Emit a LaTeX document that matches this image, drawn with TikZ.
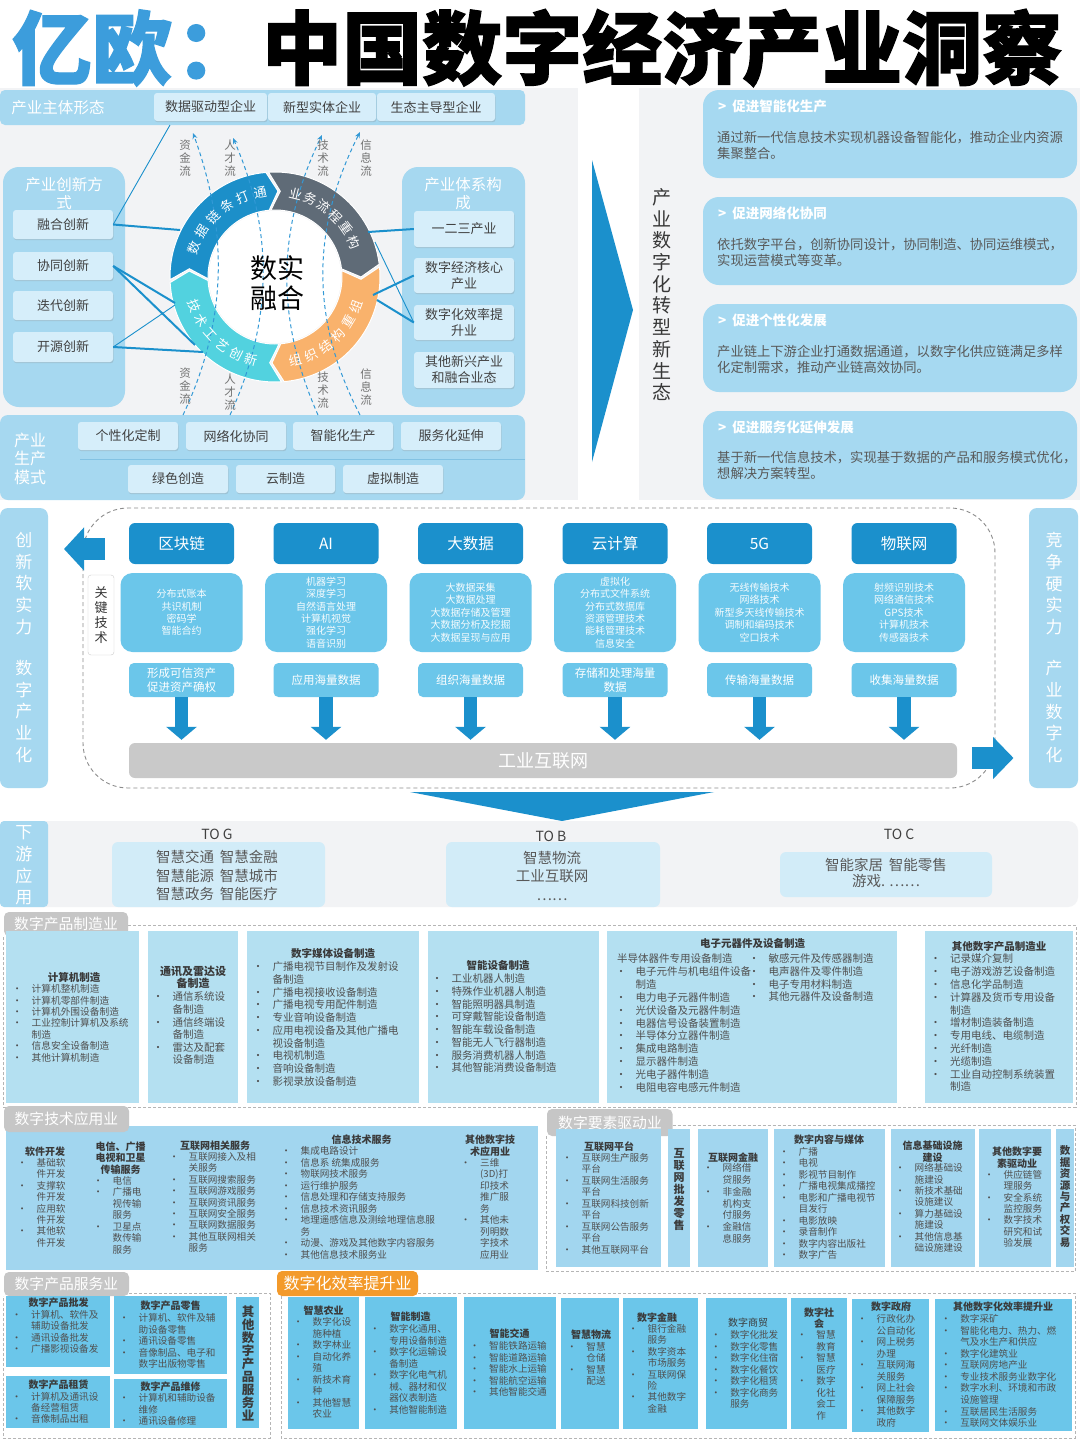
\documentclass[tikz,border=0pt]{standalone}
\usepackage{fontspec}
\setmainfont{Noto Sans CJK SC}
\usetikzlibrary{arrows.meta,calc,shadows}
\definecolor{lb}{HTML}{A6D8F0}
\definecolor{lbox}{HTML}{D6EEFA}
\definecolor{db}{HTML}{1B90CC}
\definecolor{mb}{HTML}{6BC6EA}
\definecolor{bgg}{HTML}{F2F3F5}
\definecolor{tg}{HTML}{505050}
\definecolor{tt}{HTML}{3A3A3A}
\definecolor{tdark}{HTML}{404040}
\definecolor{tabg}{HTML}{C6C6C6}
\definecolor{org}{HTML}{F39A2B}
\definecolor{pm}{HTML}{B4E0F1}
\definecolor{tp}{HTML}{A2D6EF}
\definecolor{rblue}{HTML}{1C8FC9}
\definecolor{rgrey}{HTML}{5F6B77}
\definecolor{rorange}{HTML}{F9B26C}
\definecolor{rcyan}{HTML}{52D2DF}
\definecolor{titleblue}{HTML}{3C9DDC}
\definecolor{flowc}{HTML}{3399D6}
\definecolor{gbar}{HTML}{C9C9C9}
\definecolor{dashc}{HTML}{B5B5B5}
\definecolor{tbox}{HTML}{A6D9F1}
\definecolor{dsbox}{HTML}{D2ECF8}
\newlength\bw
\setlength\bw{14.5pt}
\newcommand\myb{\makebox[0pt][c]{•}\hspace*{\bw}}
\newcommand\myc{\hspace*{\bw}}
\newcommand\fz[2]{\fontsize{#1}{#2}\selectfont}
\newcommand\bx[7][]{\node[#1,minimum width={(#5-#3)*1pt},minimum height={(#6-#4)*1pt},inner sep=0pt] (#2) at ({(#3+#5)/2},{(#4+#6)/2}) {#7};}
\newcommand\seg[3]{\fill[#1,draw=white,line width=1pt] ([shift={(#2:105)}]C) arc[start angle=#2,end angle=#3,radius=105] -- ([shift={(#3+7:86)}]C) -- ([shift={(#3:67)}]C) arc[start angle=#3,end angle=#2,radius=67] -- ([shift={(#2+7:86)}]C) -- cycle;}
\newcommand\techcol[5]{%
 \node[hdr] (h#1) at (#2,543.5) {#3};
 \node[det] (d#1) at (#2,612.5) {#4};
 \node[res] (r#1) at (#2,680) {#5};
 \draw[bigarrow] (r#1.south) -- (r#1.south |- bar.north);}
\begin{document}
\begin{tikzpicture}[x=1pt,y=-1pt,
 wt/.style={text=white,inner sep=0pt,align=center},
 lbx/.style={fill=lbox,rounded corners=3pt,drop shadow={shadow xshift=0.6pt,shadow yshift=-1.2pt,opacity=0.25},text=tdark,font=\fz{13}{16},align=center},
 conn/.style={draw=db,line width=2pt},
 connt/.style={draw=db,line width=0.9pt},
 flow/.style={draw=flowc,line width=1pt,dash pattern=on 4pt off 3pt,-{Stealth[length=6pt,width=5pt]}},
 flowlbl/.style={text=black!55,inner sep=0pt,align=center,font=\fz{11.5}{13}},
 rtxt/.style={text=white,inner sep=0pt,font=\fz{13}{15}},
 tb/.style={fill=tbox,rounded corners=16pt},
 hd/.style={anchor=west,text=white,inner sep=0pt,font=\bfseries\fz{13.5}{16}},
 bd/.style={anchor=north west,text=black!65,inner sep=0pt,align=left,font=\fz{13.3}{16}},
 hdr/.style={fill=db,rounded corners=6pt,minimum width=105pt,minimum height=41pt,text=white,font=\fz{15.5}{18},inner sep=0pt},
 det/.style={fill=mb,rounded corners=12pt,minimum width=122pt,minimum height=79pt,text=white!93!mb,font=\fz{10}{12.4},align=center,inner sep=0pt},
 res/.style={fill=mb,rounded corners=5pt,minimum width=105pt,minimum height=34pt,text=white,font=\fz{11.5}{14},align=center,inner sep=0pt},
 bigarrow/.style={draw=db,line width=13.4pt,-{Triangle[length=13pt 0 0,width=30pt 0 0]},shorten >=3pt},
 vbar/.style={text=white,inner sep=0pt,align=center,font=\fz{17}{21.75}},
 lst/.style={anchor=north west,inner sep=0pt,align=left,text=tg},
 ttl/.style={inner sep=0pt,align=center,text=tt,font=\bfseries\fz{10}{11.5}},
 tab/.style={fill=tabg,rounded corners=5pt},
 dframe/.style={draw=dashc,line width=0.9pt,dash pattern=on 3pt off 2pt},
 dsb/.style={fill=dsbox,rounded corners=6pt},
 tol/.style={text=black!75,inner sep=0pt,font=\fz{14}{16}},
 dst/.style={text=black!65,inner sep=0pt,align=center,font=\fz{14.5}{18.5}}
]
\useasboundingbox (0,0) rectangle (1080,1440);
\fill[white] (0,0) rectangle (1080,1440);
% ---------- title
\node[anchor=west,inner sep=0pt,text=titleblue,font=\fz{80}{82}\bfseries\addfontfeatures{FakeBold=1.5}] (t1) at (12,48) {亿欧\hspace{4pt}：};
\node[anchor=west,inner sep=0pt,text=black,font=\fz{80}{82}\bfseries\addfontfeatures{FakeBold=1.5}] (t2) at (262,48) {中国数字经济产业洞察};
% ---------- top-left
\fill[bgg] (0,88) rectangle (578,500);
\fill[lb,rounded corners=5pt] (0,90) rectangle (525,125);
\node[wt,font=\fz{15.5}{18}] (zt) at (58,108) {产业主体形态};
\bx[lbx]{e1}{154}{93}{267}{121}{数据驱动型企业}
\bx[lbx]{e2}{268}{93}{376}{121}{新型实体企业}
\bx[lbx]{e3}{377}{93}{495}{121}{生态主导型企业}
\fill[lb,rounded corners=16pt] (3,167) rectangle (125,407);
\node[wt,font=\fz{15.5}{18}] (cxt) at (64,194) {产业创新方\\式};
\bx[lbx]{rh}{13}{210}{113}{239}{融合创新}
\bx[lbx]{xt}{13}{252}{113}{280}{协同创新}
\bx[lbx]{dd}{13}{291}{113}{320}{迭代创新}
\bx[lbx]{ky}{13}{332}{113}{362}{开源创新}
\fill[lb,rounded corners=16pt] (402,167) rectangle (525,407);
\node[wt,font=\fz{15.5}{18}] (txt) at (463,194) {产业体系构\\成};
\bx[lbx]{s1}{414}{211}{514}{247}{一二三产业}
\bx[lbx]{s2}{414}{258}{514}{293}{数字经济核心\\产业}
\bx[lbx]{s3}{414}{305}{514}{340}{数字化效率提\\升业}
\bx[lbx]{s4}{414}{352}{514}{388}{其他新兴产业\\和融合业态}
\fill[lb,rounded corners=8pt] (0,415) rectangle (525,500);
\node[wt,font=\fz{16}{18.5}] (scm) at (30,458.5) {产业\\生产\\模式};
\bx[lbx]{m1}{78}{422}{178}{450}{个性化定制}
\bx[lbx]{m2}{186}{422}{286}{450}{网络化协同}
\bx[lbx]{m3}{293}{422}{393}{450}{智能化生产}
\bx[lbx]{m4}{401}{422}{501}{450}{服务化延伸}
\draw[db!55,line width=0.8pt] (80,459) -- (525,459);
\bx[lbx]{m5}{128}{465}{228}{493}{绿色创造}
\bx[lbx]{m6}{236}{465}{335}{493}{云制造}
\bx[lbx]{m7}{343}{465}{443}{493}{虚拟制造}
% ring
\coordinate (C) at (275,277);
\seg{rblue}{178.5}{265}
\seg{rgrey}{266.5}{353}
\seg{rorange}{354.5}{445}
\seg{rcyan}{446.5}{537}
\fill[white] (C) circle[radius=66];
% flows
\coordinate (f1s) at (183,415); \coordinate (f1e) at (193,133);
\coordinate (f2s) at (230,415); \coordinate (f2e) at (233,138);
\coordinate (f3s) at (318,415); \coordinate (f3e) at (322,135);
\coordinate (f4s) at (360,415); \coordinate (f4e) at (360,132);
\draw[flow] (f1s) .. controls (228,320) and (228,230) .. (f1e);
\draw[flow] (f2s) .. controls (273.5,320) and (273.5,230) .. (f2e);
\draw[flow] (f3s) .. controls (276,320) and (276,230) .. (f3e);
\draw[flow] (f4s) .. controls (310.7,320) and (310.7,230) .. (f4e);
\node[flowlbl] (fl1a) at (185,158) {资\\金\\流};
\node[flowlbl] (fl1b) at (185,386.5) {资\\金\\流};
\node[flowlbl] (fl2a) at (230,158) {人\\才\\流};
\node[flowlbl] (fl2b) at (230,392.5) {人\\才\\流};
\node[flowlbl] (fl3a) at (323,158) {技\\术\\流};
\node[flowlbl] (fl3b) at (323,390.5) {技\\术\\流};
\node[flowlbl] (fl4a) at (366,158) {信\\息\\流};
\node[flowlbl] (fl4b) at (366,387.5) {信\\息\\流};
% ring text
\foreach \ch [count=\i from 0] in {数,据,链,条,打,通}{
 \pgfmathsetmacro\ang{200+\i*12}
 \node[rtxt,rotate=-\ang-90] (rtb\i) at ([shift={(\ang:86)}]C) {\ch};}
\foreach \ch [count=\i from 0] in {业,务,流,程,重,构}{
 \pgfmathsetmacro\ang{284+\i*10.4}
 \node[rtxt,rotate=-\ang-90] (rtg\i) at ([shift={(\ang:86)}]C) {\ch};}
\foreach \ch [count=\i from 0] in {组,织,结,构,重,组}{
 \pgfmathsetmacro\ang{76-\i*11.2}
 \node[rtxt,rotate=90-\ang] (rto\i) at ([shift={(\ang:86)}]C) {\ch};}
\foreach \ch [count=\i from 0] in {技,术,工,艺,创,新}{
 \pgfmathsetmacro\ang{160-\i*10.8}
 \node[rtxt,rotate=90-\ang] (rtc\i) at ([shift={(\ang:86)}]C) {\ch};}
\node[inner sep=0pt,align=center,font=\fz{27}{30}] (szrh) at (277,283) {数实\\融合};
% connectors
\coordinate (p1) at (180,230); \coordinate (p0) at (170,125);
\coordinate (p2) at (175,303); \coordinate (p3) at (195,345);
\coordinate (p4) at (175,305); \coordinate (p5) at (203,352);
\coordinate (q1) at (368,232); \coordinate (q2) at (373,295);
\coordinate (q3) at (377,300); \coordinate (q4) at (375,242);
\draw[conn] (rh.east) -- (p1);
\draw[connt] (rh.east) -- (p0);
\draw[conn] (xt.east) -- (p2);
\draw[conn] (xt.east) -- (p3);
\draw[connt] (ky.east) -- (p4);
\draw[conn] (ky.east) -- (p5);
\draw[conn] (s1.west) -- (q1);
\draw[conn] (s2.west) -- (q2);
\draw[conn] (s3.west) -- (q3);
\draw[connt] (s3.west) -- (q4);
% ---------- top-right
\fill[bgg] (639,88) rectangle (1080,500);
\fill[db] (592,160) -- (633,310) -- (592,462) -- cycle;
\node[inner sep=0pt,align=center,text=black!78,font=\fz{19}{21.7}] (vt) at (662,294.7) {产\\业\\数\\字\\化\\转\\型\\新\\生\\态};
\bx[tb]{b1}{703}{90}{1077}{178}{}
\bx[tb]{b2}{703}{197}{1077}{285}{}
\bx[tb]{b3}{703}{304}{1077}{392}{}
\bx[tb]{b4}{703}{411}{1077}{499}{}
\node[hd] (b1h) at (718,106) {>\hspace{6pt}促进智能化生产};
\node[bd] (b1b) at (717,131.3) {通过新一代信息技术实现机器设备智能化，推动企业内资源\\集聚整合。};
\node[hd] (b2h) at (718,213) {>\hspace{6pt}促进网络化协同};
\node[bd] (b2b) at (717,238.3) {依托数字平台，创新协同设计，协同制造、协同运维模式，\\实现运营模式等变革。};
\node[hd] (b3h) at (718,320) {>\hspace{6pt}促进个性化发展};
\node[bd] (b3b) at (717,345.3) {产业链上下游企业打通数据通道，以数字化供应链满足多样\\化定制需求，推动产业链高效协同。};
\node[hd] (b4h) at (718,427) {>\hspace{6pt}促进服务化延伸发展};
\node[bd] (b4b) at (717,451.3) {基于新一代信息技术，实现基于数据的产品和服务模式优化，\\想解决方案转型。};
% ---------- middle
\fill[lb,rounded corners=8pt] (0,508) rectangle (48,788);
\node[vbar] (lv) at (24,647.5) {创\\新\\软\\实\\力\\[19.25pt]数\\字\\产\\业\\化};
\fill[lb,rounded corners=8pt] (1029,508) rectangle (1078,788);
\node[vbar] (rv) at (1054,647.5) {竞\\争\\硬\\实\\力\\[19.25pt]产\\业\\数\\字\\化};
\draw[draw=black!45,line width=0.9pt,dash pattern=on 4pt off 3pt,rounded corners=45pt] (83,508) rectangle (995,788);
\coordinate (la1) at (105,549); \coordinate (la2) at (64,549);
\draw[draw=db,line width=22pt,-{Triangle[length=20pt 0 0,width=42pt 0 0]}] (la1) -- (la2);
\coordinate (ra1) at (972,758); \coordinate (ra2) at (1013.5,758);
\draw[draw=db,line width=22pt,-{Triangle[length=20.5pt 0 0,width=41pt 0 0]}] (ra1) -- (ra2);
\bx[fill=white,draw=black!20,rounded corners=3pt,align=center,text=black!80,font=\fz{13}{15}]{gj}{88}{575}{114}{655}{关\\键\\技\\术}
\bx[fill=gbar,rounded corners=6pt,text=white,font=\fz{18}{20}]{bar}{129}{743}{957}{778}{工业互联网}
\techcol{1}{181.5}{区块链}{分布式账本\\共识机制\\密码学\\智能合约}{形成可信资产\\促进资产确权}
\techcol{2}{326}{AI}{机器学习\\深度学习\\自然语言处理\\计算机视觉\\强化学习\\语音识别}{应用海量数据}
\techcol{3}{470.5}{大数据}{大数据采集\\大数据处理\\大数据存储及管理\\大数据分析及挖掘\\大数据呈现与应用}{组织海量数据}
\techcol{4}{615}{云计算}{虚拟化\\分布式文件系统\\分布式数据库\\资源管理技术\\能耗管理技术\\信息安全}{存储和处理海量\\数据}
\techcol{5}{759.5}{5G}{无线传输技术\\网络技术\\新型多天线传输技术\\调制和编码技术\\空口技术}{传输海量数据}
\techcol{6}{904}{物联网}{射频识别技术\\网络通信技术\\GPS技术\\计算机技术\\传感器技术}{收集海量数据}
\fill[db] (410,792) -- (714,792) -- (562,821) -- cycle;
% ---------- downstream
\fill[bgg,rounded corners=10pt] (0,821) rectangle (1078,907);
\fill[lb,rounded corners=4pt] (0,821) rectangle (48,907);
\node[vbar] (xy) at (24,865.5) {下\\游\\应\\用};
\node[tol] (tog) at (217,834) {TO G};
\bx[dsb]{gbox}{112}{842}{325}{907}{}
\node[dst] (gtx) at (217,875.5) {智慧交通\hspace{6pt}智慧金融\\智慧能源\hspace{6pt}智慧城市\\智慧政务\hspace{6pt}智能医疗};
\node[tol] (tob) at (551,836) {TO B};
\bx[dsb]{bbox}{446}{842}{660}{907}{}
\node[dst] (btx) at (552,875.5) {智慧物流\\工业互联网\\……};
\node[tol] (toc) at (899,834) {TO C};
\bx[dsb]{cbox}{780}{852}{992}{897}{}
\node[dst,font=\fz{14.5}{16.5}] (ctx) at (886,873) {智能家居\hspace{6pt}智能零售\\游戏.\hspace{4pt}……};
% ---------- product manufacturing
\draw[dframe] (128,925) -- (1076,925) -- (1076,1107) -- (3,1107) -- (3,936);
\fill[tab] (4,912) rectangle (128,936);
\node[wt,font=\fz{14.8}{17}] (pmt) at (66,924) {数字产品制造业};
\fill[pm] (6,931) rectangle (139,1103);
\fill[pm] (148,931) rectangle (238,1103);
\fill[pm] (247,931) rectangle (419,1103);
\fill[pm] (428,931) rectangle (599,1103);
\fill[pm] (607,931) rectangle (897,1103);
\fill[pm] (925,931) rectangle (1073,1103);
\node[ttl,font=\bfseries\fz{10.5}{12}] (p1t) at (74,977) {计算机制造};
\node[lst,font=\fz{9.7}{11.4}] (p1l) at (17,984.2) {\myb 计算机整机制造\\\myb 计算机零部件制造\\\myb 计算机外围设备制造\\\myb 工业控制计算机及系统\\\myc 制造\\\myb 信息安全设备制造\\\myb 其他计算机制造};
\node[ttl,font=\bfseries\fz{11}{11.5}] (p2t) at (193,977.5) {通讯及雷达设\\备制造};
\node[lst,font=\fz{10.5}{12.6}] (p2l) at (158,991.8) {\myb 通信系统设\\\myc 备制造\\\myb 通信终端设\\\myc 备制造\\\myb 雷达及配套\\\myc 设备制造};
\node[ttl,font=\bfseries\fz{10.5}{12}] (p3t) at (333,953) {数字媒体设备制造};
\node[lst,font=\fz{10.5}{12.7}] (p3l) at (258,961.8) {\myb 广播电视节目制作及发射设\\\myc 备制造\\\myb 广播电视接收设备制造\\\myb 广播电视专用配件制造\\\myb 专业音响设备制造\\\myb 应用电视设备及其他广播电\\\myc 视设备制造\\\myb 电视机制造\\\myb 音响设备制造\\\myb 影视录放设备制造};
\node[ttl,font=\bfseries\fz{10.5}{12}] (p4t) at (498,965) {智能设备制造};
\node[lst,font=\fz{10.5}{12.7}] (p4l) at (437,973.8) {\myb 工业机器人制造\\\myb 特殊作业机器人制造\\\myb 智能照明器具制造\\\myb 可穿戴智能设备制造\\\myb 智能车载设备制造\\\myb 智能无人飞行器制造\\\myb 服务消费机器人制造\\\myb 其他智能消费设备制造};
\node[ttl,font=\bfseries\fz{10.5}{12}] (p5t) at (752.5,943) {电子元器件及设备制造};
\node[lst,font=\fz{10.5}{12.7}] (p5a) at (617,953.8) {半导体器件专用设备制造};
\node[lst,font=\fz{10.5}{12.8}] (p5l) at (621,966.8) {\myb 电子元件与机电组件设备\\\myc 制造\\\myb 电力电子元器件制造\\\myb 光伏设备及元器件制造\\\myb 电器信号设备装置制造\\\myb 半导体分立器件制造\\\myb 集成电路制造\\\myb 显示器件制造\\\myb 光电子器件制造\\\myb 电阻电容电感元件制造};
\node[lst,font=\fz{10.5}{12.7}] (p5r) at (754,953.8) {\myb 敏感元件及传感器制造\\\myb 电声器件及零件制造\\\myb 电子专用材料制造\\\myb 其他元器件及设备制造};
\node[ttl,font=\bfseries\fz{10.5}{12}] (p6t) at (999,947) {其他数字产品制造业};
\node[lst,font=\fz{10.5}{12.8}] (p6l) at (935.5,953.8) {\myb 记录媒介复制\\\myb 电子游戏游艺设备制造\\\myb 信息化学品制造\\\myb 计算器及货币专用设备\\\myc 制造\\\myb 增材制造装备制造\\\myb 专用电线、电缆制造\\\myb 光纤制造\\\myb 光缆制造\\\myb 工业自动控制系统装置\\\myc 制造};
% ---------- tech application
\fill[tp] (6,1126) rectangle (538,1270);
\fill[tab] (4,1106) rectangle (129,1132);
\node[wt,font=\fz{14.8}{17}] (tat) at (66.5,1119) {数字技术应用业};
\node[ttl] (t1t) at (45,1152) {软件开发};
\node[lst,font=\fz{9.6}{11.4}] (t1l) at (22,1158.2) {\myb 基础软\\\myc 件开发\\\myb 支撑软\\\myc 件开发\\\myb 应用软\\\myc 件开发\\\myb 其他软\\\myc 件开发};
\node[ttl,font=\bfseries\fz{10}{11.3}] (t2t) at (120.5,1158) {电信、广播\\电视和卫星\\传输服务};
\node[lst,font=\fz{9.6}{11.5}] (t2l) at (98,1176.2) {\myb 电信\\\myb 广播电\\\myc 视传输\\\myc 服务\\\myb 卫星点\\\myc 数传输\\\myc 服务};
\node[ttl] (t3t) at (215,1146) {互联网相关服务};
\node[lst,font=\fz{9.6}{11.4}] (t3l) at (174,1152.2) {\myb 互联网接入及相\\\myc 关服务\\\myb 互联网搜索服务\\\myb 互联网游戏服务\\\myb 互联网资讯服务\\\myb 互联网安全服务\\\myb 互联网数据服务\\\myb 其他互联网相关\\\myc 服务};
\node[ttl] (t4t) at (361.5,1140) {信息技术服务};
\node[lst,font=\fz{9.6}{11.56}] (t4l) at (286,1146.2) {\myb 集成电路设计\\\myb 信息系 统集成服务\\\myb 物联网技术服务\\\myb 运行维护服务\\\myb 信息处理和存储支持服务\\\myb 信息技术资讯服务\\\myb 地理遥感信息及测绘地理信息服\\\myc 务\\\myb 动漫、游戏及其他数字内容服务\\\myb 其他信息技术服务业};
\node[ttl,font=\bfseries\fz{10}{11.8}] (t5t) at (490,1146) {其他数字技\\术应用业};
\node[lst,font=\fz{9.6}{11.5}] (t5l) at (465.5,1158.2) {\myb 三维\\\myc (3D)打\\\myc 印技术\\\myc 推广服\\\myc 务\\\myb 其他未\\\myc 列明数\\\myc 字技术\\\myc 应用业};
% ---------- element driven
\draw[dframe] (672.5,1125) -- (1075,1125) -- (1075,1271) -- (546,1271) -- (546,1136);
\fill[tab] (547,1109) rectangle (672.5,1136);
\node[wt,font=\fz{14.8}{17}] (edt) at (610,1122.5) {数字要素驱动业};
\fill[tp] (555.5,1129) rectangle (660.5,1267);
\fill[tp] (668,1129) rectangle (690,1267);
\fill[tp] (698,1129) rectangle (768,1267);
\fill[tp] (773.5,1129) rectangle (885,1267);
\fill[tp] (890.5,1129) rectangle (974.6,1267);
\fill[tp] (979,1129) rectangle (1051,1267);
\fill[tp] (1056,1129) rectangle (1074,1267);
\node[ttl] (e1t) at (609,1147) {互联网平台};
\node[lst,font=\fz{9.6}{11.5}] (e1l) at (567,1153.2) {\myb 互联网生产服务\\\myc 平台\\\myb 互联网生活服务\\\myc 平台\\\myb 互联网科技创新\\\myc 平台\\\myb 互联网公告服务\\\myc 平台\\\myb 其他互联网平台};
\node[ttl,font=\bfseries\fz{11}{12}] (e2t) at (679,1189) {互\\联\\网\\批\\发\\零\\售};
\node[ttl] (e3t) at (733,1158) {互联网金融};
\node[lst,font=\fz{9.6}{11.8}] (e3l) at (708,1163.2) {\myb 网络借\\\myc 贷服务\\\myb 非金融\\\myc 机构支\\\myc 付服务\\\myb 金融信\\\myc 息服务};
\node[ttl] (e4t) at (829,1140) {数字内容与媒体};
\node[lst,font=\fz{9.6}{11.44}] (e4l) at (784,1147.2) {\myb 广播\\\myb 电视\\\myb 影视节目制作\\\myb 广播电视集成播控\\\myb 电影和广播电视节\\\myc 目发行\\\myb 电影放映\\\myb 录音制作\\\myb 数字内容出版社\\\myb 数字广告};
\node[ttl,font=\bfseries\fz{10}{11.5}] (e5t) at (932.6,1151.5) {信息基础设施\\建设};
\node[lst,font=\fz{9.6}{11.4}] (e5l) at (900,1163.2) {\myb 网络基础设\\\myc 施建设\\\myb 新技术基础\\\myc 设施建议\\\myb 算力基础设\\\myc 施建设\\\myb 其他信息基\\\myc 础设施建设};
\node[ttl,font=\bfseries\fz{10}{11.3}] (e6t) at (1017,1157.5) {其他数字要\\素驱动业};
\node[lst,font=\fz{9.6}{11.33}] (e6l) at (989,1170.2) {\myb 供应链管\\\myc 理服务\\\myb 安全系统\\\myc 监控服务\\\myb 数字技术\\\myc 研究和试\\\myc 验发展};
\node[ttl,font=\bfseries\fz{10.5}{11.4}] (e7t) at (1065,1196.5) {数\\据\\资\\源\\与\\产\\权\\交\\易};
% ---------- product services
\draw[dframe] (129,1293) -- (270,1293) -- (270,1438) -- (3,1438) -- (3,1296);
\fill[tab] (4,1272) rectangle (129,1296);
\node[wt,font=\fz{14.8}{17}] (pst) at (66.5,1284) {数字产品服务业};
\fill[mb] (6,1296) rectangle (110,1367);
\fill[mb] (114,1296) rectangle (227,1374);
\fill[mb] (6,1376) rectangle (110,1428);
\fill[mb] (114,1379) rectangle (227,1428);
\fill[mb] (236,1297) rectangle (259,1428);
\node[ttl] (sat) at (58.5,1303) {数字产品批发};
\node[lst,font=\fz{9.6}{11.4}] (sal) at (16.5,1310.2) {\myb 计算机、软件及\\\myc 辅助设备批发\\\myb 通讯设备批发\\\myb 广播影视设备发};
\node[ttl] (sbt) at (170.5,1306) {数字产品零售};
\node[lst,font=\fz{9.6}{11.5}] (sbl) at (124,1313.2) {\myb 计算机、软件及辅\\\myc 助设备零售\\\myb 通讯设备零售\\\myb 音像制品、电子和\\\myc 数字出版物零售};
\node[ttl] (sct) at (58.5,1385) {数字产品租赁};
\node[lst,font=\fz{9.6}{11.2}] (scl) at (16.5,1392.2) {\myb 计算机及通讯设\\\myc 备经营租赁\\\myb 音像制品出租};
\node[ttl] (sdt) at (170.5,1387) {数字产品维修};
\node[lst,font=\fz{9.6}{11.5}] (sdl) at (124,1393.2) {\myb 计算机和辅助设备\\\myc 维修\\\myb 通讯设备修理};
\node[ttl,font=\bfseries\fz{12.5}{12.9}] (set) at (248,1363.5) {其\\他\\数\\字\\产\\品\\服\\务\\业};
% ---------- efficiency
\draw[dframe] (418,1293) -- (1075,1293) -- (1075,1438) -- (281,1438) -- (281,1296);
\fill[org,rounded corners=5pt] (277,1271) rectangle (418,1296);
\node[wt,font=\fz{16}{18}] (eft) at (347.5,1283.5) {数字化效率提升业};
\fill[mb] (287.5,1297) rectangle (359,1429);
\fill[mb] (365,1297) rectangle (457,1429);
\fill[mb] (464,1297) rectangle (555.5,1429);
\fill[mb] (561,1298) rectangle (618.5,1429);
\fill[mb] (622.6,1298) rectangle (698.4,1429);
\fill[mb] (706,1298) rectangle (787,1429);
\fill[mb] (791,1298) rectangle (846.5,1429);
\fill[mb] (851.6,1299) rectangle (929,1432);
\fill[mb] (935,1299) rectangle (1072,1431);
\node[ttl] (q1t) at (323.7,1311) {智慧农业};
\node[lst,font=\fz{9.6}{11.5}] (q1l) at (298,1317.2) {\myb 数字化设\\\myc 施种植\\\myb 数字林业\\\myb 自动化养\\\myc 殖\\\myb 新技术育\\\myc 种\\\myb 其他智慧\\\myc 农业};
\node[ttl] (q2t) at (410.5,1317) {智能制造};
\node[lst,font=\fz{9.6}{11.57}] (q2l) at (374.6,1324.2) {\myb 数字化通用、\\\myc 专用设备制造\\\myb 数字化运输设\\\myc 备制造\\\myb 数字化电气机\\\myc 械、器材和仪\\\myc 器仪表制造\\\myb 其他智能制造};
\node[ttl] (q3t) at (509.6,1334) {智能交通};
\node[lst,font=\fz{9.6}{11.5}] (q3l) at (474.5,1341.2) {\myb 智能铁路运输\\\myb 智能道路运输\\\myb 智能水上运输\\\myb 智能航空运输\\\myb 其他智能交通};
\node[ttl] (q4t) at (591,1335) {智慧物流};
\node[lst,font=\fz{9.6}{11.3}] (q4l) at (571.7,1342.2) {\myb 智慧\\\myc 仓储\\\myb 智慧\\\myc 配送};
\node[ttl] (q5t) at (657,1318) {数字金融};
\node[lst,font=\fz{9.6}{11.4}] (q5l) at (633,1324.2) {\myb 银行金融\\\myc 服务\\\myb 数字资本\\\myc 市场服务\\\myb 互联网保\\\myc 险\\\myb 其他数字\\\myc 金融};
\node[ttl,font=\fz{10}{11.5}] (q6t) at (748,1323) {数字商贸};
\node[lst,font=\fz{9.6}{11.5}] (q6l) at (715.6,1330.2) {\myb 数字化批发\\\myb 数字化零售\\\myb 数字化住宿\\\myb 数字化餐饮\\\myb 数字化租赁\\\myb 数字化商务\\\myc 服务};
\node[ttl,font=\bfseries\fz{10}{11}] (q7t) at (819,1318.5) {数字社\\会};
\node[lst,font=\fz{9.6}{11.57}] (q7l) at (801.7,1330.2) {\myb 智慧\\\myc 教育\\\myb 智慧\\\myc 医疗\\\myb 数字\\\myc 化社\\\myc 会工\\\myc 作};
\node[ttl] (q8t) at (891,1307) {数字政府};
\node[lst,font=\fz{9.6}{11.56}] (q8l) at (862,1314.2) {\myb 行政化办\\\myc 公自动化\\\myb 网上税务\\\myc 办理\\\myb 互联网海\\\myc 关服务\\\myb 网上社会\\\myc 保障服务\\\myb 其他数字\\\myc 政府};
\node[ttl] (q9t) at (1003,1307) {其他数字化效率提升业};
\node[lst,font=\fz{9.6}{11.56}] (q9l) at (945.6,1314.2) {\myb 数字采矿\\\myb 智能化电力、热力、燃\\\myc 气及水生产和供应\\\myb 数字化建筑业\\\myb 互联网房地产业\\\myb 专业技术服务业数字化\\\myb 数字水利、环境和市政\\\myc 设施管理\\\myb 互联居民生活服务\\\myb 互联网文体娱乐业};
\end{tikzpicture}
\end{document}
